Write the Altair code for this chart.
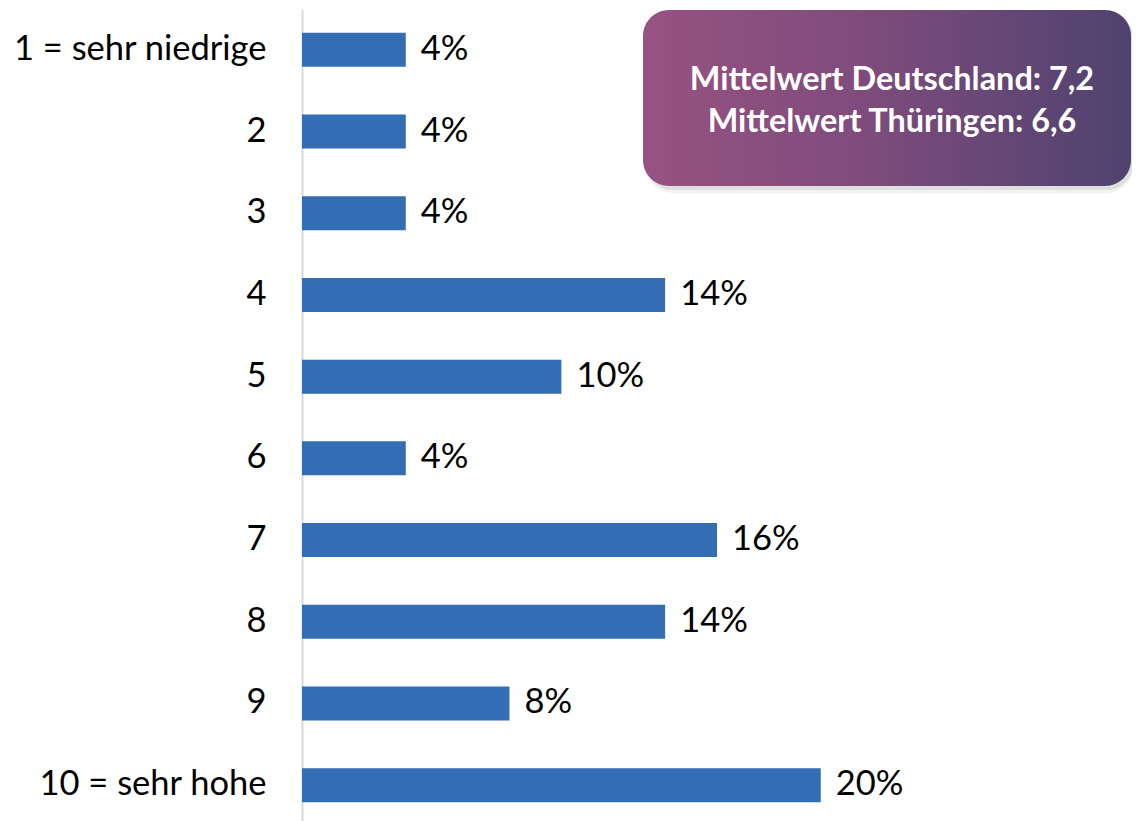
import altair as alt
import pandas as pd

categories = ["1 = sehr niedrige", "2", "3", "4", "5", "6", "7", "8", "9", "10 = sehr hohe"]
values = [4, 4, 4, 14, 10, 4, 16, 14, 8, 20]
labels = [f"{v}%" for v in values]
box_lines = ["Mittelwert Deutschland: 7,2", "Mittelwert Thüringen: 6,6"]

df = pd.DataFrame({"cat": categories, "val": values, "lab": labels})

FONT = "Lato"

y_enc = alt.Y(
    "cat:N",
    sort=categories,
    title=None,
    scale=alt.Scale(paddingInner=0.584, paddingOuter=0.292),
    axis=alt.Axis(
        labelFont=FONT,
        labelFontSize=34.5,
        labelColor="#000000",
        labelPadding=36,
        ticks=False,
        domainColor="#D9D9D9",
        domainWidth=2,
        grid=False,
        labelLimit=400,
    ),
)
x_enc = alt.X("val:Q", title=None, scale=alt.Scale(domain=[0, 32]), axis=None)

bars = alt.Chart(df).mark_bar(color="#336DB3").encode(x=x_enc, y=y_enc)
texts = alt.Chart(df).mark_text(
    align="left", baseline="middle", dx=15, font=FONT, fontSize=34.5, color="#000000"
).encode(x=x_enc, y=y_enc, text="lab:N")

box_df = pd.DataFrame({"a": [0]})
shadow_outer = alt.Chart(box_df).mark_rect(
    cornerRadius=28, color="#000000", opacity=0.05
).encode(x=alt.value(343), x2=alt.value(832), y=alt.value(3), y2=alt.value(184))
shadow = alt.Chart(box_df).mark_rect(
    cornerRadius=26, color="#000000", opacity=0.08
).encode(x=alt.value(344), x2=alt.value(831), y=alt.value(3), y2=alt.value(181))
box = alt.Chart(box_df).mark_rect(
    cornerRadius=26,
    color=alt.Gradient(
        gradient="linear",
        stops=[
            alt.GradientStop(color="#975282", offset=0),
            alt.GradientStop(color="#7E4C7C", offset=0.45),
            alt.GradientStop(color="#4F426F", offset=1),
        ],
        x1=0, x2=1, y1=0, y2=0,
    ),
).encode(x=alt.value(341), x2=alt.value(829), y=alt.value(1), y2=alt.value(177))
line1 = alt.Chart(pd.DataFrame({"t": [box_lines[0]]})).mark_text(
    font=FONT, fontSize=32.4, fontWeight="bold", color="#FFFFFF", align="center", baseline="middle"
).encode(x=alt.value(590), y=alt.value(71), text="t:N")
line2 = alt.Chart(pd.DataFrame({"t": [box_lines[1]]})).mark_text(
    font=FONT, fontSize=32.4, fontWeight="bold", color="#FFFFFF", align="center", baseline="middle"
).encode(x=alt.value(590), y=alt.value(113), text="t:N")

chart = alt.layer(bars, texts, shadow_outer, shadow, box, line1, line2).properties(
    width=830,
    height=817,
    background="#FFFFFF",
    autosize=alt.AutoSizeParams(type="none"),
    padding={"left": 294, "top": 1, "right": 0, "bottom": 0},
).configure_view(stroke=None)

chart.save("out.html", embed_options={"renderer": "svg", "actions": False})
